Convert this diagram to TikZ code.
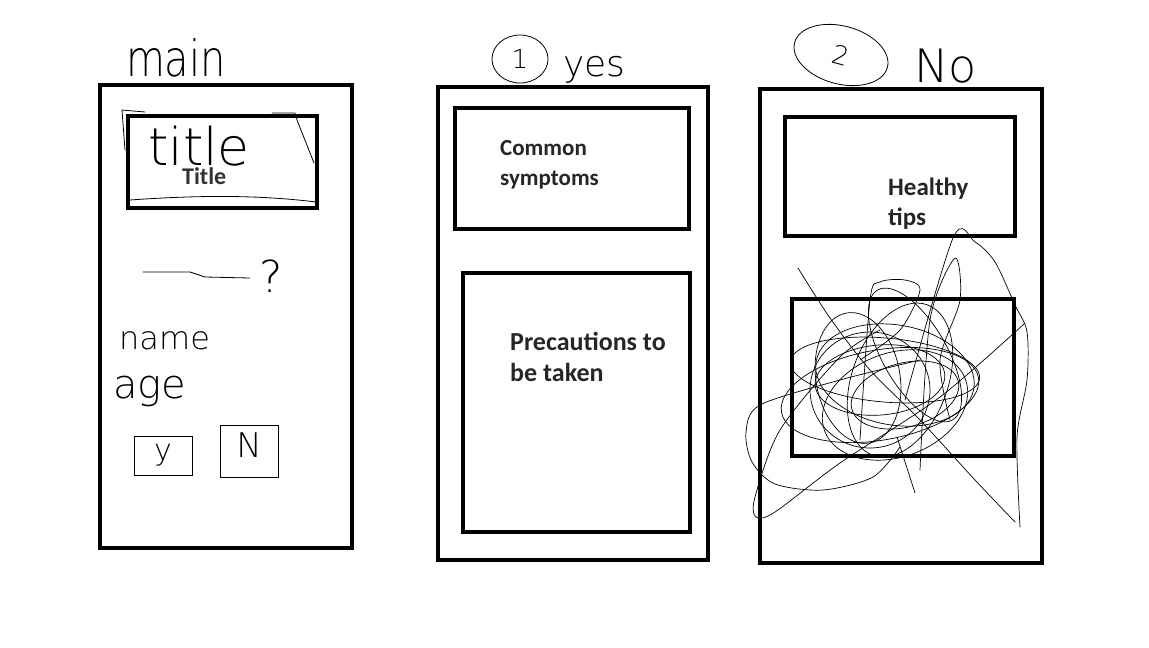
\documentclass[tikz,border=0pt]{standalone}
\usepackage{fontspec}
\setmainfont{Carlito}[BoldFont={Carlito Bold}]
\newfontfamily\hand{DejaVu Sans ExtraLight}
\usetikzlibrary{shapes.geometric}
\tikzset{
  panel/.style={draw, line width=4pt, inner sep=0},
  pen/.style={line width=0.8pt, line cap=round, line join=round},
  lbl/.style={font=\bfseries\fontsize{23}{30}\selectfont, text=black!85, align=left, anchor=base west, inner sep=0},
  hw/.style={font=\hand, inner sep=0, text=black},
  ring/.style={draw, ellipse, line width=0.8pt, inner sep=0},
  smallbox/.style={draw, line width=0.8pt, inner sep=0},
}
\begin{document}
\begin{tikzpicture}[x=1pt,y=-1pt]
\useasboundingbox[fill=white] (0,0) rectangle (1149,648);

% ---------------- screen 1 : main ----------------
\node[panel, minimum width=252pt, minimum height=463pt] (s1) at (226,316.5) {};
\node[panel, minimum width=189pt, minimum height=92pt] (t1) at (222.5,162) {};
\node[hw, font=\hand\fontsize{40}{40}\selectfont, anchor=base, yscale=1.25, transform shape] (mainlbl) at (176,76) {main};
% handwritten title strokes
\node[hw, font=\hand\fontsize{52}{52}\selectfont, anchor=base] (hwtitle) at (199,165) {title};
\draw[pen] (145,112) -- (122,110) -- (125,150);
\draw[pen] (272,113) -- (295,113) -- (297,120) -- (314,163);
\draw[pen] (130,200) .. controls (200,195) and (260,195) .. (316,202);
\node[lbl, font=\bfseries\fontsize{24}{30}\selectfont, text=black!80] (title) at (182,184) {Title};
% blank + question
\coordinate (blankA) at (143,272);
\coordinate (blankB) at (250,278);
\draw[pen] (blankA) -- (190,272) -- (205,277) -- (blankB);
\node[hw, font=\hand\fontsize{44}{44}\selectfont, anchor=base] (qmark) at (271,292) {?};
\node[hw, font=\hand\fontsize{32}{32}\selectfont, anchor=base west] (name) at (119,349) {name};
\node[hw, font=\hand\fontsize{40}{40}\selectfont, anchor=base west] (age) at (113,398) {age};
\node[smallbox, minimum width=58pt, minimum height=39pt] (ybox) at (163,455.5) {};
\node[hw, font=\hand\fontsize{30}{30}\selectfont] at (ybox) {y};
\node[smallbox, minimum width=58pt, minimum height=52pt] (nbox) at (249,451) {};
\node[hw, font=\hand\fontsize{34}{34}\selectfont] at ([yshift=6pt]nbox.center) {N};

% ---------------- screen 2 : yes ----------------
\node[panel, minimum width=270pt, minimum height=473pt] (s2) at (573,323.5) {};
\node[panel, minimum width=234pt, minimum height=121pt] (b21) at (572,168.5) {};
\node[panel, minimum width=227pt, minimum height=259pt] (b22) at (576.5,402.5) {};
\node[ring, minimum width=56pt, minimum height=48pt, font=\hand\fontsize{26}{26}\selectfont] (c1) at (520,59) {1};
\node[hw, font=\hand\fontsize{36}{36}\selectfont, anchor=base west] (yes) at (563,76) {yes};
\node[lbl] (sym) at (500,185) {Common\\symptoms};
\node[lbl, font=\bfseries\fontsize{26}{31}\selectfont] (prec) at (510,381) {Precautions to\\be taken};

% ---------------- screen 3 : no ----------------
\node[panel, minimum width=282pt, minimum height=474pt] (s3) at (901,326) {};
\node[panel, minimum width=230pt, minimum height=119pt] (b31) at (900,176.5) {};
\node[panel, minimum width=222pt, minimum height=157pt] (b32) at (903,377.5) {};
\node[ring, minimum width=96pt, minimum height=58pt, rotate=-15, font=\hand\fontsize{26}{26}\selectfont] (c2) at (841,55) {2};
\node[hw, font=\hand\fontsize{46}{46}\selectfont, anchor=base west] (no) at (914,82) {No};
\node[lbl, font=\bfseries\fontsize{25}{30}\selectfont] (tips) at (888,225) {Healthy\\tips};

% scribble over the lower panel
\begin{scope}[pen, line width=0.7pt]
\draw (880,380) ellipse [x radius=65, y radius=35, rotate=5];
\draw (895,375) ellipse [x radius=80, y radius=50, rotate=-10];
\draw (870,390) ellipse [x radius=60, y radius=58];
\draw (905,395) ellipse [x radius=55, y radius=32, rotate=15];
\draw (885,370) ellipse [x radius=95, y radius=32, rotate=-5];
\draw (895,405) ellipse [x radius=75, y radius=52, rotate=20];
\draw (858,378) ellipse [x radius=42, y radius=66, rotate=10];
\draw (915,355) ellipse [x radius=32, y radius=75, rotate=30];
\draw (880,395) ellipse [x radius=100, y radius=45, rotate=10];
\draw (900,380) ellipse [x radius=48, y radius=80, rotate=-20];
\draw plot[smooth] coordinates {(798,268) (830,318) (870,370) (920,420) (975,480) (1015,522)};
\draw plot[smooth] coordinates {(905,400) (953,238) (975,242) (995,262) (1015,305) (1027,332) (1027,380) (1017,437) (1020,527)};
\draw plot[smooth] coordinates {(920,360) (840,380) (760,405) (746,432) (752,462) (775,484) (823,490) (873,477) (900,447)};
\draw plot[smooth] coordinates {(1025,323) (940,397) (840,463) (775,512) (756,517) (755,497) (780,430) (840,357) (880,330)};
\draw plot[smooth] coordinates {(860,440) (870,300) (880,282) (905,280) (920,290) (900,330) (860,360)};
\draw plot[smooth] coordinates {(920,470) (930,320) (955,258) (960,300) (940,360) (950,420)};
\draw plot[smooth] coordinates {(897,437) (915,493)};
\end{scope}
\end{tikzpicture}
\end{document}
